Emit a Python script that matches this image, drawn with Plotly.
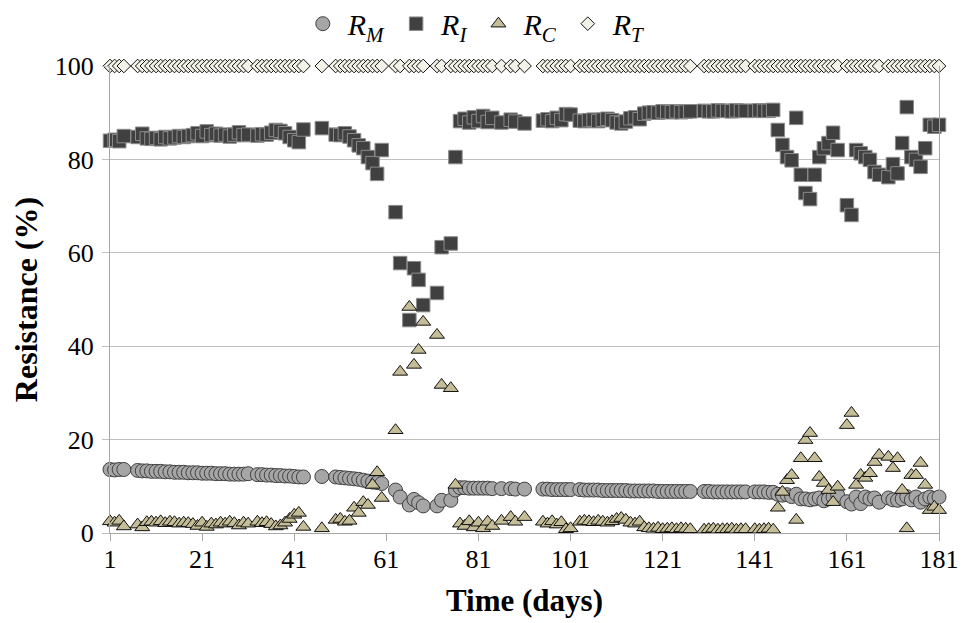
import plotly.graph_objects as go

# ---------------- data ----------------
days = [
    1, 2, 3, 4,
    7, 8, 9, 10, 11, 12, 13, 14, 15, 16, 17, 18, 19, 20, 21, 22, 23, 24, 25, 26, 27, 28, 29, 30, 31,
    33, 34, 35, 36, 37, 38, 39, 40, 41, 42, 43,
    47,
    50, 51, 52, 53, 54, 55, 56, 57, 58, 59, 60,
    63, 64, 66, 67, 68, 69, 72, 73, 75, 76,
    77, 78, 79, 80, 81, 82, 83, 84,
    86, 88, 89, 91,
    95, 96, 97, 98, 99, 100, 101,
    103, 104, 105, 106, 107, 108, 109, 110, 111, 112, 113, 114, 115, 116, 117, 118, 119, 120, 121, 122, 123, 124, 125, 126, 127,
    130, 131, 132, 133, 134, 135, 136, 137, 138, 139,
    141, 142, 143, 144, 145, 146, 147, 148, 149, 150, 151, 152, 153, 154, 155, 156, 157, 158, 159,
    161, 162, 163, 164, 165, 166, 167, 168,
    170, 171, 172, 173, 174, 175, 176, 177, 178, 179, 180, 181,
]

r_m = [
    13.6, 13.5, 13.6, 13.6,
    13.4, 13.3, 13.3, 13.2, 13.2, 13.2, 13.1, 13.1, 13.0, 13.0, 13.0, 12.9, 12.9, 12.9, 12.8, 12.8, 12.8, 12.7, 12.7, 12.7, 12.6, 12.6, 12.6, 12.6, 12.7,
    12.5, 12.5, 12.4, 12.4, 12.3, 12.3, 12.2, 12.2, 12.1, 12.0, 12.0,
    12.1,
    12.0, 11.9, 11.8, 11.7, 11.6, 11.5, 11.3, 11.1, 10.9, 10.8, 10.6,
    9.2, 7.7, 6.0, 7.2, 6.5, 5.8, 5.8, 7.0, 7.0, 9.2,
    9.7, 9.7, 9.6, 9.6, 9.6, 9.6, 9.6, 9.5,
    9.5, 9.5, 9.4, 9.4,
    9.4, 9.4, 9.3, 9.3, 9.3, 9.3, 9.3,
    9.3, 9.2, 9.2, 9.2, 9.2, 9.1, 9.1, 9.1, 9.1, 9.1, 9.1, 9.0, 9.0, 9.0, 9.0, 9.0, 9.0, 8.9, 8.9, 8.9, 8.9, 8.9, 8.9, 8.9, 8.9,
    8.9, 8.9, 8.8, 8.8, 8.8, 8.8, 8.8, 8.8, 8.8, 8.8,
    8.8, 8.8, 8.8, 8.7, 8.7, 8.3, 8.1, 8.2, 7.8, 8.3, 7.3, 7.3, 7.1, 7.3, 7.5, 6.9, 7.3, 7.7, 8.1,
    6.7, 6.2, 7.7, 6.3, 7.7, 7.3, 7.5, 6.6,
    7.5, 7.1, 7.0, 7.3, 7.8, 7.1, 7.7, 6.6, 7.3, 7.7, 7.4, 7.7,
]

r_i = [
    84.0, 84.2, 83.9, 85.0,
    84.8, 85.5, 84.5, 84.4, 84.6, 84.3, 84.8, 84.5, 84.7, 85.0, 84.8, 85.0, 85.2, 85.6, 85.0, 86.0, 85.2, 85.5, 85.1, 85.3, 84.9, 85.3, 85.8, 85.2, 85.3,
    85.1, 85.4, 85.3, 85.7, 86.3, 86.1, 85.6, 84.8, 84.1, 83.7, 86.4,
    86.7,
    85.3, 85.2, 85.6, 84.9, 84.1, 83.0, 82.4, 80.5, 79.2, 76.9, 82.0,
    68.7, 57.8, 45.6, 56.7, 54.2, 48.8, 51.4, 61.2, 62.0, 80.5,
    88.2, 88.7, 87.9, 89.0, 88.2, 89.3, 88.0, 88.9,
    87.9, 88.5, 88.1, 87.7,
    88.3, 88.6, 88.2, 88.9, 88.4, 89.7, 89.6,
    88.3, 88.2, 88.4, 88.5, 88.2, 88.5, 88.7, 88.4, 87.9, 87.7, 88.1, 88.8, 89.0, 88.6, 89.8, 90.0, 90.1, 90.0, 90.3, 90.2, 90.1, 90.3, 90.1, 90.2, 90.3,
    90.4, 90.3, 90.3, 90.5, 90.4, 90.4, 90.3, 90.5, 90.4, 90.4,
    90.4, 90.5, 90.4, 90.4, 90.6, 86.3, 83.1, 80.5, 79.8, 88.9, 76.7, 72.8, 71.5, 76.7, 80.5, 82.4, 83.5, 85.7, 82.0,
    70.2, 68.1, 82.0, 81.3, 80.5, 79.9, 77.3, 76.7,
    76.2, 79.0, 77.0, 83.5, 91.2, 80.5, 79.9, 78.4, 82.4, 87.4, 87.0, 87.4,
]

r_c = [
    2.5, 2.2, 2.6, 1.4,
    1.8, 1.2, 2.3, 2.4, 2.2, 2.5, 2.1, 2.4, 2.3, 2.0, 2.2, 2.1, 1.9, 1.5, 2.2, 1.3, 2.0, 1.8, 2.2, 2.0, 2.4, 2.1, 1.6, 2.2, 2.0,
    2.4, 2.1, 2.3, 1.9, 1.4, 1.6, 2.2, 3.0, 3.9, 4.3, 1.3,
    1.0,
    2.8, 3.0, 2.4, 2.6, 5.4, 4.3, 6.6, 6.0, 10.3, 13.0, 7.5,
    22.0, 34.5, 48.4, 36.0, 39.2, 45.2, 42.4, 31.7, 31.0, 10.3,
    2.0, 1.5, 2.5, 1.2, 2.2, 1.0, 2.4, 1.5,
    2.6, 3.4, 2.4, 3.4,
    2.4, 2.0, 2.5, 1.8, 2.3, 0.8, 1.0,
    2.4, 2.6, 2.5, 2.3, 2.6, 2.4, 2.2, 2.5, 3.0, 3.2, 2.8, 2.2, 2.0, 2.4, 1.2, 1.0, 0.9, 1.1, 0.8, 0.9, 1.0, 0.8, 1.0, 0.9, 0.8,
    0.7, 0.8, 0.9, 0.7, 0.8, 0.8, 0.9, 0.7, 0.8, 0.8,
    0.8, 0.7, 0.8, 0.9, 0.7, 5.4, 8.8, 11.3, 12.4, 2.8, 16.0, 19.9, 21.4, 16.0, 12.0, 10.7, 9.2, 6.6, 9.9,
    23.1, 25.7, 10.3, 12.4, 11.8, 12.8, 15.2, 16.7,
    16.3, 13.9, 16.0, 9.2, 1.0, 12.4, 12.4, 15.0, 10.3, 4.9, 5.6, 4.9,
]

r_t = [
    100, 100, 100, 100,
    100, 100, 100, 100, 100, 100, 100, 100, 100, 100, 100, 100, 100, 100, 100, 100, 100, 100, 100, 100, 100, 100, 100, 100, 100,
    100, 100, 100, 100, 100, 100, 100, 100, 100, 100, 100,
    100,
    100, 100, 100, 100, 100, 100, 100, 100, 100, 100, 100,
    100, 100, 100, 100, 100, 100, 100, 100, 100, 100,
    100, 100, 100, 100, 100, 100, 100, 100,
    100, 100, 100, 100,
    100, 100, 100, 100, 100, 100, 100,
    100, 100, 100, 100, 100, 100, 100, 100, 100, 100, 100, 100, 100, 100, 100, 100, 100, 100, 100, 100, 100, 100, 100, 100, 100,
    100, 100, 100, 100, 100, 100, 100, 100, 100, 100,
    100, 100, 100, 100, 100, 100, 100, 100, 100, 100, 100, 100, 100, 100, 100, 100, 100, 100, 100,
    100, 100, 100, 100, 100, 100, 100, 100,
    100, 100, 100, 100, 100, 100, 100, 100, 100, 100, 100, 100,
]

x_ticks = [1, 21, 41, 61, 81, 101, 121, 141, 161, 181]
y_ticks = [0, 20, 40, 60, 80, 100]

assert len(days) == len(r_m) == len(r_i) == len(r_c) == len(r_t), (
    len(days), len(r_m), len(r_i), len(r_c), len(r_t))

# ---------------- figure ----------------
FONT = "Liberation Serif"

series = [
    ("<i>R<sub>M</sub></i>", r_m, "circle", 14, "#a6a6a6", "#404040"),
    ("<i>R<sub>I</sub></i>", r_i, "square", 13.5, "#404040", "#8c8c8c"),
    ("<i>R<sub>C</sub></i>", r_c, "triangle-up", 13, "#c4bd97", "#111111"),
    ("<i>R<sub>T</sub></i>", r_t, "diamond", 10.5, "#f3f2e8", "#111111"),
]

fig = go.Figure()
for name, vals, sym, size, fill, edge in series:
    fig.add_trace(go.Scatter(
        x=days, y=vals, mode="markers", name=name, cliponaxis=False,
        marker=dict(symbol=sym, size=size, color=fill,
                    line=dict(color=edge, width=1)),
    ))

fig.update_layout(
    width=964, height=623,
    margin=dict(l=110, r=25, t=66, b=90, autoexpand=False),
    paper_bgcolor="white", plot_bgcolor="white",
    font=dict(family=FONT, color="black", size=24),
    showlegend=True,
    legend=dict(orientation="h", xref="container", yref="container",
                x=0.492, xanchor="center", y=0.962, yanchor="middle",
                font=dict(family=FONT, size=30, color="black"),
                itemwidth=40, tracegroupgap=0, bgcolor="rgba(0,0,0,0)"),
)

fig.update_xaxes(
    range=[1, 181], tickmode="array", tickvals=x_ticks,
    ticktext=[str(v) for v in x_ticks],
    showgrid=False, zeroline=False,
    showline=True, linecolor="#a6a6a6", linewidth=1,
    ticks="outside", ticklen=7, tickcolor="#a6a6a6",
    ticklabelstandoff=-4,
    tickfont=dict(family=FONT, size=26, color="black"),
    title=dict(text="<b>Time (days)</b>", font=dict(family=FONT, size=31, color="black"),
               standoff=16),
)
fig.update_yaxes(
    range=[0, 100], tickmode="array", tickvals=y_ticks,
    ticktext=[str(v) for v in y_ticks],
    showgrid=True, gridcolor="#c0c0c0", gridwidth=1, zeroline=False,
    showline=True, mirror=True, linecolor="#a6a6a6", linewidth=1,
    ticks="outside", ticklen=7, tickcolor="#c0c0c0",
    ticklabelstandoff=3,
    tickfont=dict(family=FONT, size=26, color="black"),
    title=dict(text="<b>Resistance (%)</b>", font=dict(family=FONT, size=32, color="black"),
               standoff=7),
)

fig.write_html("out.html")
